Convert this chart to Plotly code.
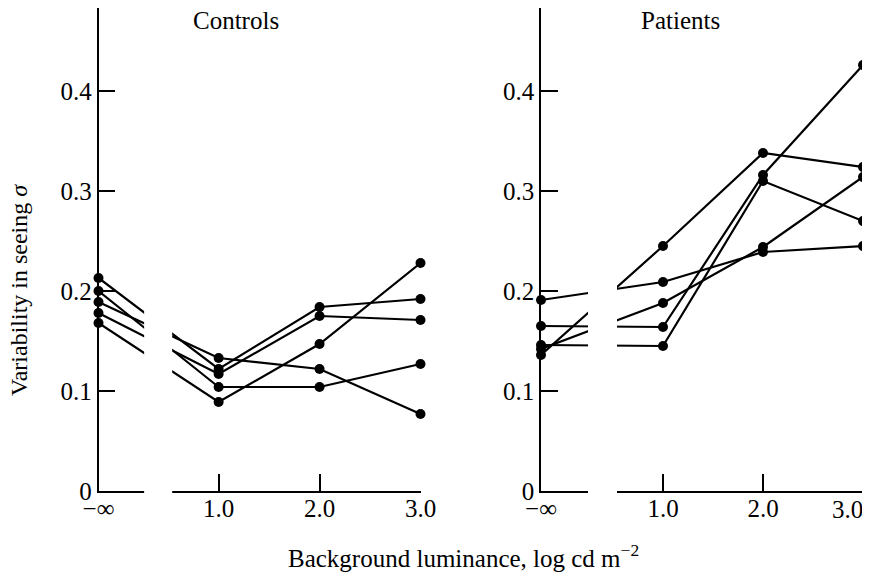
import plotly.graph_objects as go

# ---------------- data ----------------
x_ticktext = ["\u2212\u221e", "1.0", "2.0", "3.0"]
x_finite = [1.0, 2.0, 3.0]
y_ticks = [0, 0.1, 0.2, 0.3, 0.4]
y_ticktext = ["0", "0.1", "0.2", "0.3", "0.4"]

# values at  -inf, 1.0, 2.0, 3.0
ctrl_1 = [0.213, 0.122, 0.184, 0.192]
ctrl_2 = [0.200, 0.104, 0.104, 0.127]
ctrl_3 = [0.189, 0.133, 0.122, 0.077]
ctrl_4 = [0.178, 0.117, 0.175, 0.171]
ctrl_5 = [0.168, 0.089, 0.147, 0.228]

pat_1 = [0.136, 0.245, 0.338, 0.324]
pat_2 = [0.191, 0.209, 0.239, 0.245]
pat_3 = [0.142, 0.188, 0.244, 0.314]
pat_4 = [0.165, 0.164, 0.316, 0.426]
pat_5 = [0.146, 0.145, 0.310, 0.270]

controls = [ctrl_1, ctrl_2, ctrl_3, ctrl_4, ctrl_5]
patients = [pat_1, pat_2, pat_3, pat_4, pat_5]

# ---------------- layout geometry ----------------
# The page body has an 8px margin, so the figure starts at (8, 8) on the page.
# Keep the figure small enough that the page never needs to scroll.
OFF = 8
W, H = 870 - OFF, 583 - 2 * OFF
FONT = "Liberation Serif"


def px_x(p):  # page pixel -> paper x
    return (p - OFF) / W


def px_y(p):  # page pixel -> paper y
    return 1 - (p - OFF) / H


panels = {
    "left": dict(px=(98.5, 420.5), minf=-0.19, gap=(0.262, 0.54)),
    "right": dict(px=(541, 863), minf=-0.22, gap=(0.25, 0.54)),
}
y_px = (491, 8)  # bottom, top (page px)
y_range = [0, 0.483]
y_dom = [px_y(y_px[0]), px_y(y_px[1])]


def to_paper(panel, xv):
    p = panels[panel]
    x0, x1 = p["px"]
    r0, r1 = p["minf"], 3.0
    return px_x(x0 + (xv - r0) / (r1 - r0) * (x1 - x0))


fig = go.Figure()

line_style = dict(color="black", width=2.2)
marker_style = dict(color="black", size=10)

for series in controls:
    fig.add_trace(go.Scatter(
        x=[panels["left"]["minf"]] + x_finite, y=series, mode="lines+markers",
        line=line_style, marker=marker_style, cliponaxis=False,
        xaxis="x", yaxis="y", showlegend=False, hoverinfo="skip"))
for series in patients:
    fig.add_trace(go.Scatter(
        x=[panels["right"]["minf"]] + x_finite, y=series, mode="lines+markers",
        line=line_style, marker=marker_style, cliponaxis=False,
        xaxis="x2", yaxis="y2", showlegend=False, hoverinfo="skip"))

tickfont = dict(family=FONT, size=25, color="black")


def xaxis_cfg(panel, texts):
    p = panels[panel]
    return dict(
        domain=[px_x(p["px"][0]), px_x(p["px"][1])],
        range=[p["minf"], 3.0],
        showline=True, linecolor="black", linewidth=1.5,
        ticks="inside", ticklen=17, tickwidth=1.5, tickcolor="black",
        tickvals=[p["minf"]] + x_finite, ticktext=texts,
        tickfont=tickfont, ticklabeloverflow="allow", ticklabelstandoff=-6,
        showgrid=False, zeroline=False, fixedrange=True,
    )


def yaxis_cfg(anchor):
    return dict(
        domain=y_dom, range=y_range, anchor=anchor,
        showline=True, linecolor="black", linewidth=1.5,
        ticks="inside", ticklen=17, tickwidth=1.5, tickcolor="black",
        tickvals=y_ticks, ticktext=y_ticktext, tickfont=tickfont,
        showgrid=False, zeroline=False, fixedrange=True,
    )


shapes = []
for panel in ("left", "right"):
    g0, g1 = panels[panel]["gap"]
    shapes.append(dict(
        type="rect", xref="paper", yref="paper",
        x0=to_paper(panel, g0), x1=to_paper(panel, g1),
        y0=px_y(y_px[0] + 4), y1=px_y(150),
        fillcolor="white", line=dict(width=0), layer="above"))

title_font = dict(family=FONT, size=25, color="black")
annotations = [
    dict(text="Controls", x=px_x(236), y=px_y(21), xref="paper", yref="paper",
         xanchor="center", yanchor="middle", showarrow=False, font=title_font),
    dict(text="Patients", x=px_x(680), y=px_y(21), xref="paper", yref="paper",
         xanchor="center", yanchor="middle", showarrow=False, font=title_font),
    dict(text="Variability in seeing <i>\u03c3</i>", x=px_x(19), y=px_y(290),
         xref="paper", yref="paper", xanchor="center", yanchor="middle",
         textangle=-90, showarrow=False,
         font=dict(family=FONT, size=24, color="black")),
    dict(text="Background luminance, log cd m<sup>\u22122</sup>", x=px_x(463),
         y=px_y(556), xref="paper", yref="paper", xanchor="center",
         yanchor="middle", showarrow=False, font=title_font),
    # last tick label of the right panel sits at the page edge: keep it inside
    dict(text=x_ticktext[-1], x=px_x(864), y=px_y(509), xref="paper",
         yref="paper", xanchor="right", yanchor="middle", showarrow=False,
         font=tickfont, borderpad=0),
]

fig.update_layout(
    width=W, height=H,
    margin=dict(l=0, r=0, t=0, b=0, autoexpand=False),
    paper_bgcolor="white", plot_bgcolor="white",
    xaxis=xaxis_cfg("left", x_ticktext),
    yaxis=yaxis_cfg("x"),
    xaxis2=xaxis_cfg("right", x_ticktext[:-1] + [""]),
    yaxis2=yaxis_cfg("x2"),
    shapes=shapes, annotations=annotations,
)
fig.update_xaxes(automargin=False)
fig.update_yaxes(automargin=False)

fig.write_html("out.html")
